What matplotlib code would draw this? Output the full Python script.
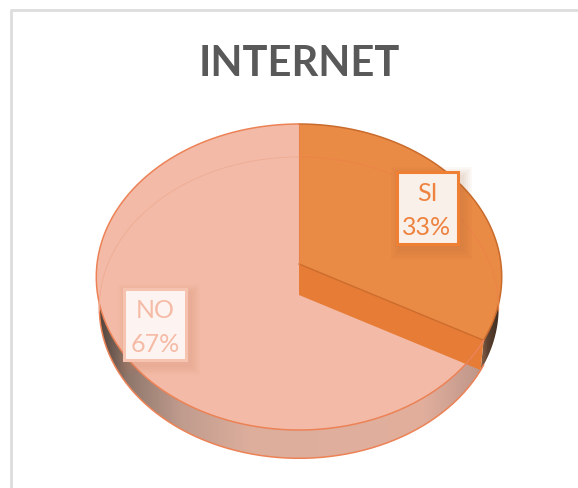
import numpy as np
import matplotlib
matplotlib.use('Agg')
import matplotlib.pyplot as plt
from matplotlib.colors import LinearSegmentedColormap
from matplotlib.patches import Polygon, Rectangle

categories = ['SI', 'NO']
values = [33, 67]
title = 'INTERNET'

face_colors = ['#E98A45', '#F3BBA7']
edge_colors = ['#C96B2C', '#EC8256']

plt.rcParams['font.family'] = ['Lato', 'DejaVu Sans']

# the tilted pie is a circle seen in perspective
cx, cy = 299, 265
rx, ry, k = 202, 151.9, 0.085
depth = 31


def project(angle, r=1.0, drop=0.0):
    # angle in degrees, clockwise from 12 o'clock
    a = np.radians(angle)
    u = r * np.sin(a)
    v = r * np.cos(a)
    w = 1 + k * v
    return np.column_stack([cx + rx * u / w, cy - ry * v / w + drop])


def rim(a0, a1, r=1.0, drop=0.0):
    return project(np.linspace(a0, a1, 200), r, drop)


def wedge(a0, a1, r=1.0):
    return np.vstack([project(np.array([0.0]), 0.0), rim(a0, a1, r)])


def side(a0, a1):
    return np.vstack([rim(a0, a1), rim(a1, a0, 0.985, depth)])


def gradient_side(ax, a0, a1, cmap, x0, x1):
    patch = Polygon(side(a0, a1), closed=True, facecolor='none', edgecolor='none')
    ax.add_patch(patch)
    grad = np.linspace(0, 1, 256).reshape(1, -1)
    im = ax.imshow(grad, cmap=cmap, extent=(x0, x1, 470, 260), aspect='auto', zorder=1)
    im.set_clip_path(patch)


def label_box(ax, x0, y0, x1, y1, fill, edge, shadow, text, color):
    # soft shadow from stacked translucent rectangles
    for grow in range(10, 0, -2):
        ax.add_patch(Rectangle((x0 + 4 - grow, y0 + 5 - grow), x1 - x0 + 2 * grow, y1 - y0 + 2 * grow,
                               facecolor=shadow, edgecolor='none', alpha=0.045, zorder=6))
    ax.add_patch(Rectangle((x0, y0), x1 - x0, y1 - y0, facecolor=fill, edgecolor=edge, lw=2.2, zorder=7))
    ax.text((x0 + x1) / 2, (y0 + y1) / 2 + 2, text, color=color, fontsize=18, ha='center', va='center',
            linespacing=1.55, zorder=8)


fig = plt.figure(figsize=(5.78, 4.89), dpi=100)
ax = fig.add_axes([0, 0, 1, 1])

# frame of the chart area
ax.plot([10.5, 10.5, 578], [489, 10.5, 10.5], color='#DDDDDD', lw=2, zorder=0)

ends = np.cumsum(values) / np.sum(values) * 360
starts = np.concatenate([[0], ends[:-1]])
a_si0, a_si1 = starts[0], ends[0]
a_no0, a_no1 = starts[1], ends[1]

# outer walls
no_cmap = LinearSegmentedColormap.from_list('no_side', [
    (0.00, '#4F4038'), (0.08, '#8F776C'), (0.22, '#C09C8E'), (0.40, '#DDAE9C'),
    (0.85, '#E2AF9D'), (1.00, '#BF978A')])
si_cmap = LinearSegmentedColormap.from_list('si_side', ['#A8785A', '#5B4030', '#3F2C20'])
gradient_side(ax, a_si0 + 60, a_si1, si_cmap, 476, 500)
gradient_side(ax, a_no0, a_no0 + 150, no_cmap, 97, 480)
ax.plot(*rim(a_no0 - 2, a_no0 + 150, 0.985, depth).T, color=edge_colors[1], lw=1.1, zorder=2)

# top faces
ax.add_patch(Polygon(wedge(a_no0, a_no1), closed=True, facecolor=face_colors[1], edgecolor='none', zorder=3))
ax.add_patch(Polygon(wedge(a_si0, a_si1), closed=True, facecolor=face_colors[0], edgecolor='none', zorder=3))

# cut face of the SI slice
centre = project(np.array([0.0]), 0.0)
outer = project(np.array([a_si1]))
cut = np.vstack([centre, outer, project(np.array([a_si1]), 0.985, depth), centre + [0, depth]])
ax.add_patch(Polygon(cut, closed=True, facecolor='#E67C36', edgecolor='none', zorder=4))
ax.plot(*np.vstack([centre, outer]).T, color='#CC6C2C', lw=1, zorder=4)
ax.plot(*np.vstack([centre, centre + [0, -140]]).T, color='#E9814A', lw=0.8, zorder=4)

# rims, and the far wall showing through the transparent top
ax.plot(*rim(a_si0, a_si1).T, color=edge_colors[0], lw=1.1, zorder=5)
ax.plot(*rim(a_no0, a_no1).T, color=edge_colors[1], lw=1.1, zorder=5)
ax.plot(*rim(a_si0, a_si0 + 96, 0.985, depth).T, color='#EC8448', lw=0.7, zorder=5)
ax.plot(*rim(a_no1 - 96, a_no1, 0.985, depth).T, color='#EFAD95', lw=0.7, zorder=5)

label_box(ax, 396.5, 172.5, 457.5, 244.5, '#F9F0EA', '#EF7F33', '#A8642F',
          f'{categories[0]}\n{values[0]}%', '#EE8340')
label_box(ax, 124, 290, 186, 361, '#FDF4F1', '#F6C3B1', '#C9785A',
          f'{categories[1]}\n{values[1]}%', '#F5BBA6')

ax.text(299, 76, title, color='#595959', fontsize=30, fontweight='bold', ha='center', va='baseline')

ax.set_xlim(0, 578)
ax.set_ylim(489, 0)
ax.axis('off')

fig.savefig('out.png', dpi=100, facecolor='white')
